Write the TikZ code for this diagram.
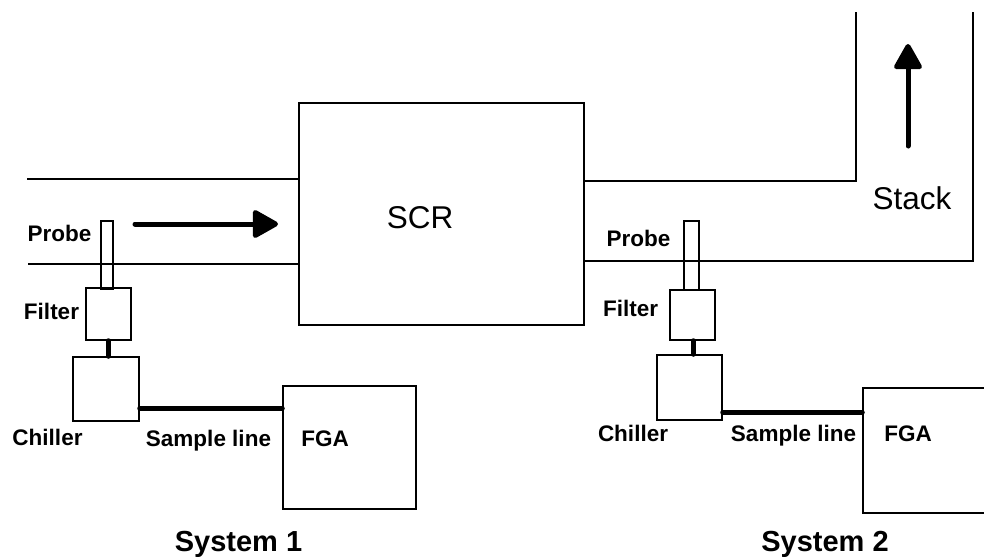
\documentclass[tikz,border=0pt]{standalone}
\usepackage{fontspec}
\setmainfont{Liberation Sans}
\usetikzlibrary{arrows.meta}
\tikzset{unit/.style={rectangle, draw, line width=1.5pt, inner sep=0pt}}
\tikzset{tag/.style={font=\bfseries\fontsize{22.5}{27}\selectfont, inner sep=0pt, text height=16pt, text depth=0pt}}
\tikzset{title/.style={font=\fontsize{31.5}{36}\selectfont, inner sep=0pt, text height=22.5pt, text depth=0pt}}
\tikzset{system/.style={font=\bfseries\fontsize{29}{34}\selectfont, inner sep=0pt, text height=21pt, text depth=0pt}}
\tikzset{duct/.style={line width=1.5pt}}
\tikzset{pipe/.style={line width=5pt, line cap=round}}
\tikzset{flow/.style={line width=5pt, line cap=round, -{Triangle[round, length=28pt, width=30pt]}}}

\begin{document}
\begin{tikzpicture}[x=1pt, y=-1pt]

    \useasboundingbox (0,0) rectangle (984,558);
    \clip (0,0) rectangle (984,558);

    \node[unit, minimum width=285pt, minimum height=222pt] (scr) at (441.5,214) {};
    \node[title] (scrname) at (420,217) {SCR};

    \coordinate (inTop) at (27,179);
    \coordinate (inBot) at (28,264);
    \coordinate (outTop) at (856,181);
    \coordinate (outBot) at (973,261);
    \coordinate (stackIn) at (856,12);
    \coordinate (stackOut) at (973,12);

    \draw[duct] (inTop) -- (inTop -| scr.west);
    \draw[duct] (inBot) -- (inBot -| scr.west);
    \draw[duct] (outTop -| scr.east) -- (outTop) -- (stackIn);
    \draw[duct] (outBot -| scr.east) -- (outBot) -- (stackOut);

    \coordinate (flowA) at (135,224);
    \coordinate (flowB) at (278,224);
    \draw[flow] (flowA) -- (flowB);

    \coordinate (riseA) at (908,146);
    \coordinate (riseB) at (908,44);
    \draw[flow] (riseA) -- (riseB);
    \node[title] (stack) at (912,198) {Stack};

    \node[unit, minimum width=12pt, minimum height=68pt] (probe1) at (107,255) {};
    \node[unit, minimum width=45pt, minimum height=52pt] (filter1) at (108.5,314) {};
    \node[unit, minimum width=66pt, minimum height=64pt] (chiller1) at (106,389) {};
    \node[unit, minimum width=133pt, minimum height=123pt] (fga1) at (349.5,447.5) {};
    \coordinate (sl1) at (0,408);
    \draw[pipe] (filter1.south -| 108,0) -- (chiller1.north -| 108,0);
    \draw[pipe] (sl1 -| chiller1.east) -- (sl1 -| fga1.west);

    \node[tag] (probe1name) at (59.5,233) {Probe};
    \node[tag] (filter1name) at (51.5,311) {Filter};
    \node[tag] (chiller1name) at (47.5,437) {Chiller};
    \node[tag] (sl1name) at (208.5,438) {Sample line};
    \node[tag] (fga1name) at (325,438) {FGA};
    \node[system] (sys1) at (238.5,541) {System 1};

    \node[unit, minimum width=15pt, minimum height=69pt] (probe2) at (691.5,255.5) {};
    \node[unit, minimum width=45pt, minimum height=50pt] (filter2) at (692.5,315) {};
    \node[unit, minimum width=65pt, minimum height=65pt] (chiller2) at (689.5,387.5) {};
    \node[unit, minimum width=137pt, minimum height=125pt] (fga2) at (931.5,450.5) {};
    \coordinate (sl2) at (0,412);
    \draw[pipe] (filter2.south -| 693,0) -- (chiller2.north -| 693,0);
    \draw[pipe] (sl2 -| chiller2.east) -- (sl2 -| fga2.west);

    \node[tag] (probe2name) at (638.5,238) {Probe};
    \node[tag] (filter2name) at (630.5,308) {Filter};
    \node[tag] (chiller2name) at (633,433) {Chiller};
    \node[tag] (sl2name) at (793.5,433) {Sample line};
    \node[tag] (fga2name) at (908,433) {FGA};
    \node[system] (sys2) at (825,541) {System 2};

\end{tikzpicture}
\end{document}
